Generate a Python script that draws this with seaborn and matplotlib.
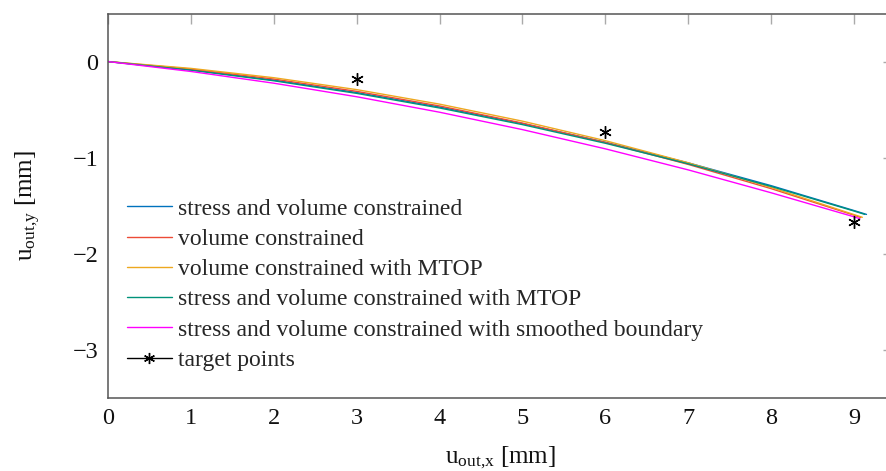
import matplotlib
matplotlib.use("Agg")
import matplotlib.pyplot as plt
from matplotlib.lines import Line2D
import numpy as np
import pandas as pd
import seaborn as sns

# Output displacement paths of the compliant mechanism designs
x_pts = [0, 1, 2, 3, 4, 5, 6, 7, 8, 9]

x_stress_vol = x_pts + [9.15]
y_stress_vol = [0, -0.086, -0.193, -0.322, -0.473, -0.645, -0.839, -1.054, -1.291, -1.550, -1.590]

x_vol = x_pts + [9.08]
y_vol = [0, -0.078, -0.182, -0.310, -0.462, -0.640, -0.842, -1.070, -1.322, -1.598, -1.622]

x_vol_mtop = x_pts + [9.10]
y_vol_mtop = [0, -0.071, -0.168, -0.292, -0.443, -0.620, -0.823, -1.053, -1.310, -1.592, -1.620]

x_stress_vol_mtop = x_pts + [9.13]
y_stress_vol_mtop = [0, -0.090, -0.200, -0.331, -0.483, -0.656, -0.850, -1.064, -1.299, -1.555, -1.590]

x_smooth = x_pts + [9.07]
y_smooth = [0, -0.103, -0.225, -0.366, -0.527, -0.708, -0.908, -1.127, -1.365, -1.615, -1.635]

# Prescribed target points
x_target = [3, 6, 9]
y_target = [-0.18, -0.73, -1.67]

labels = [
    "stress and volume constrained",
    "volume constrained",
    "volume constrained with MTOP",
    "stress and volume constrained with MTOP",
    "stress and volume constrained with smoothed boundary",
]
colors = ["#0072BD", "#EC4B36", "#EDA81F", "#00927A", "#FF00FF"]

series = [
    (x_stress_vol, y_stress_vol),
    (x_vol, y_vol),
    (x_vol_mtop, y_vol_mtop),
    (x_stress_vol_mtop, y_stress_vol_mtop),
    (x_smooth, y_smooth),
]

frames = []
for lab, (xs, ys) in zip(labels, series):
    frames.append(pd.DataFrame({"ux": xs, "uy": ys, "design": lab}))
df = pd.concat(frames, ignore_index=True)
targets = pd.DataFrame({"ux": x_target, "uy": y_target})

sns.set_theme(style="white")
plt.rcParams["font.family"] = ["Liberation Serif", "DejaVu Serif"]
plt.rcParams["mathtext.fontset"] = "custom"
plt.rcParams["mathtext.rm"] = "Liberation Serif"
plt.rcParams["mathtext.it"] = "Liberation Serif:italic"

W, H = 887, 471
fig = plt.figure(figsize=(W / 100, H / 100), dpi=100)
ax = fig.add_axes([108 / W, 1 - 398 / H, (893 - 108) / W, (398 - 13.5) / H])

sns.lineplot(data=df, x="ux", y="uy", hue="design", hue_order=labels,
             palette=colors, sort=False, estimator=None, lw=1.0,
             legend=False, ax=ax)
ax.plot(targets["ux"], targets["uy"], ls="none", marker=(6, 2, 0),
        ms=9, mew=1.0, color="black")

ax.set_xlim(0, 9.47)
ax.set_ylim(-3.5, 0.5)
ax.set_xticks(range(0, 10))
ax.set_yticks([0, -1, -2, -3])
ax.set_yticklabels(["0", "\u22121", "\u22122", "\u22123"])

for sp in ax.spines.values():
    sp.set_color("#555555")
    sp.set_linewidth(1.1)
ax.tick_params(direction="in", length=7, width=1.0, color="#aaaaaa",
               top=True, right=True, labelsize=17.5, pad=7, labelcolor="#111111")

ax.set_xlabel(r"$\mathrm{u}_{\mathrm{out{,}x}}$ [mm]", fontsize=18, color="#111111", labelpad=11)
ax.set_ylabel(r"$\mathrm{u}_{\mathrm{out{,}y}}$ [mm]", fontsize=18, color="#111111", labelpad=21)

handles = [Line2D([], [], color=c, lw=1.0) for c in colors]
handles.append(Line2D([], [], color="black", lw=1.0, marker=(6, 2, 0), ms=8, mew=1.0))
leg = ax.legend(handles, labels + ["target points"], loc="upper left",
                bbox_to_anchor=(127 / W, 1 - 198 / H), bbox_transform=fig.transFigure,
                frameon=False, fontsize=17, borderpad=0, borderaxespad=0,
                handlelength=1.9, handletextpad=0.25, labelspacing=0.37)

fig.savefig("out.png", dpi=100)
